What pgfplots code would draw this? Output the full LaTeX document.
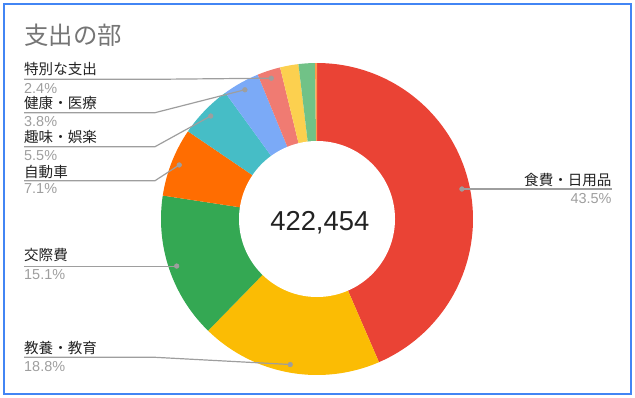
\documentclass[border=0pt]{standalone}
\usepackage{pgfplots}
\pgfplotsset{compat=1.18}
\usepackage{fontspec}
\setmainfont{Liberation Sans}
\newfontfamily\jp{Noto Sans CJK JP}
\definecolor{c1}{HTML}{EA4335}
\definecolor{c2}{HTML}{FBBC04}
\definecolor{c3}{HTML}{34A853}
\definecolor{c4}{HTML}{FF6D01}
\definecolor{c5}{HTML}{46BDC6}
\definecolor{c6}{HTML}{7BAAF7}
\definecolor{c7}{HTML}{F07B72}
\definecolor{c8}{HTML}{FCD04F}
\definecolor{c9}{HTML}{71C287}
\definecolor{c10}{HTML}{FF994D}
\definecolor{lgray}{HTML}{9E9E9E}
\definecolor{ttl}{HTML}{757575}
\definecolor{txt}{HTML}{222222}
\definecolor{frame}{HTML}{4285F4}
\def\cum{0}
\newcommand\slice[2]{%
  \pgfmathsetmacro\sa{\cum*3.6}%
  \pgfmathsetmacro\sb{(\cum+#1)*3.6}%
  \edef\doslice{\noexpand\addplot[fill=#2, draw=none, domain=\sa:\sb, samples=80, forget plot] ({317+156*sin(x)},{219-156*cos(x)}) -- (axis cs:317,219) -- cycle;}%
  \doslice
  \pgfmathsetmacro\tmp{\cum+#1}\global\let\cum\tmp
}
\newcommand\nm[1]{{\jp\fontsize{14.6}{16}\selectfont\color{txt}#1}}
\newcommand\pc[1]{{\fontsize{14.5}{16}\selectfont\color{lgray}#1}}
\begin{document}
\begin{tikzpicture}
\begin{axis}[width=635bp, height=398bp, scale only axis, xmin=0, xmax=635, ymin=0, ymax=398, y dir=reverse, hide axis, clip=false]
\path (axis cs:0,0) rectangle (axis cs:635,398);
\draw[frame, line width=1.3bp] (axis cs:4,4) rectangle (axis cs:631,394);
% slices (percent)
\slice{43.5}{c1}
\slice{18.8}{c2}
\slice{15.1}{c3}
\slice{7.1}{c4}
\slice{5.5}{c5}
\slice{3.8}{c6}
\slice{2.4}{c7}
\slice{1.9}{c8}
\slice{1.7}{c9}
\slice{0.2}{c10}
% hole
\addplot[fill=white, draw=none, domain=0:360, samples=181] ({317+78*sin(x)},{219-78*cos(x)}) -- cycle;
% leader lines
\addplot[lgray, line width=1.2bp, no marks] coordinates {(461.9,189.0) (611.7,189.0)};
\addplot[lgray, line width=1.2bp, no marks] coordinates {(290.2,364.5) (155,357.3) (24,357.3)};
\addplot[lgray, line width=1.2bp, no marks] coordinates {(176.7,266.1) (24,266.1)};
\addplot[lgray, line width=1.2bp, no marks] coordinates {(179.2,165.0) (155,180.7) (24,180.7)};
\addplot[lgray, line width=1.2bp, no marks] coordinates {(210.7,116.0) (155,146.7) (24,146.7)};
\addplot[lgray, line width=1.2bp, no marks] coordinates {(244.9,89.75) (155,112.7) (24,112.7)};
\addplot[lgray, line width=1.2bp, no marks] coordinates {(271.3,78.2) (155,79.3) (24,79.3)};
% dots at slice middles
\addplot[only marks, mark=*, mark size=2.4, lgray, samples at={78.3,190.44,251.46,291.42,314.1,330.84,342}] ({317+148*sin(x)},{219-148*cos(x)});
% texts
\node[anchor=west, inner sep=0, text=ttl] at (axis cs:24,35) {\jp\fontsize{24.5}{26}\selectfont 支出の部};
\node[inner sep=0, text=txt] at (axis cs:319.8,222.7) {\fontsize{27.5}{30}\selectfont 422,454};
\node[anchor=west, inner sep=0] at (axis cs:24,69.3) {\nm{特別な支出}};
\node[anchor=west, inner sep=0] at (axis cs:24,88.5) {\pc{2.4\%}};
\node[anchor=west, inner sep=0] at (axis cs:24,103.3) {\nm{健康・医療}};
\node[anchor=west, inner sep=0] at (axis cs:24,122) {\pc{3.8\%}};
\node[anchor=west, inner sep=0] at (axis cs:24,136.7) {\nm{趣味・娯楽}};
\node[anchor=west, inner sep=0] at (axis cs:24,156) {\pc{5.5\%}};
\node[anchor=west, inner sep=0] at (axis cs:24,171.7) {\nm{自動車}};
\node[anchor=west, inner sep=0] at (axis cs:24,189) {\pc{7.1\%}};
\node[anchor=west, inner sep=0] at (axis cs:24,255) {\nm{交際費}};
\node[anchor=west, inner sep=0] at (axis cs:24,275) {\pc{15.1\%}};
\node[anchor=west, inner sep=0] at (axis cs:24,348.3) {\nm{教養・教育}};
\node[anchor=west, inner sep=0] at (axis cs:24,366.7) {\pc{18.8\%}};
\node[anchor=east, inner sep=0] at (axis cs:611.7,180) {\nm{食費・日用品}};
\node[anchor=east, inner sep=0] at (axis cs:611.7,198.3) {\pc{43.5\%}};
\end{axis}
\end{tikzpicture}
\end{document}
